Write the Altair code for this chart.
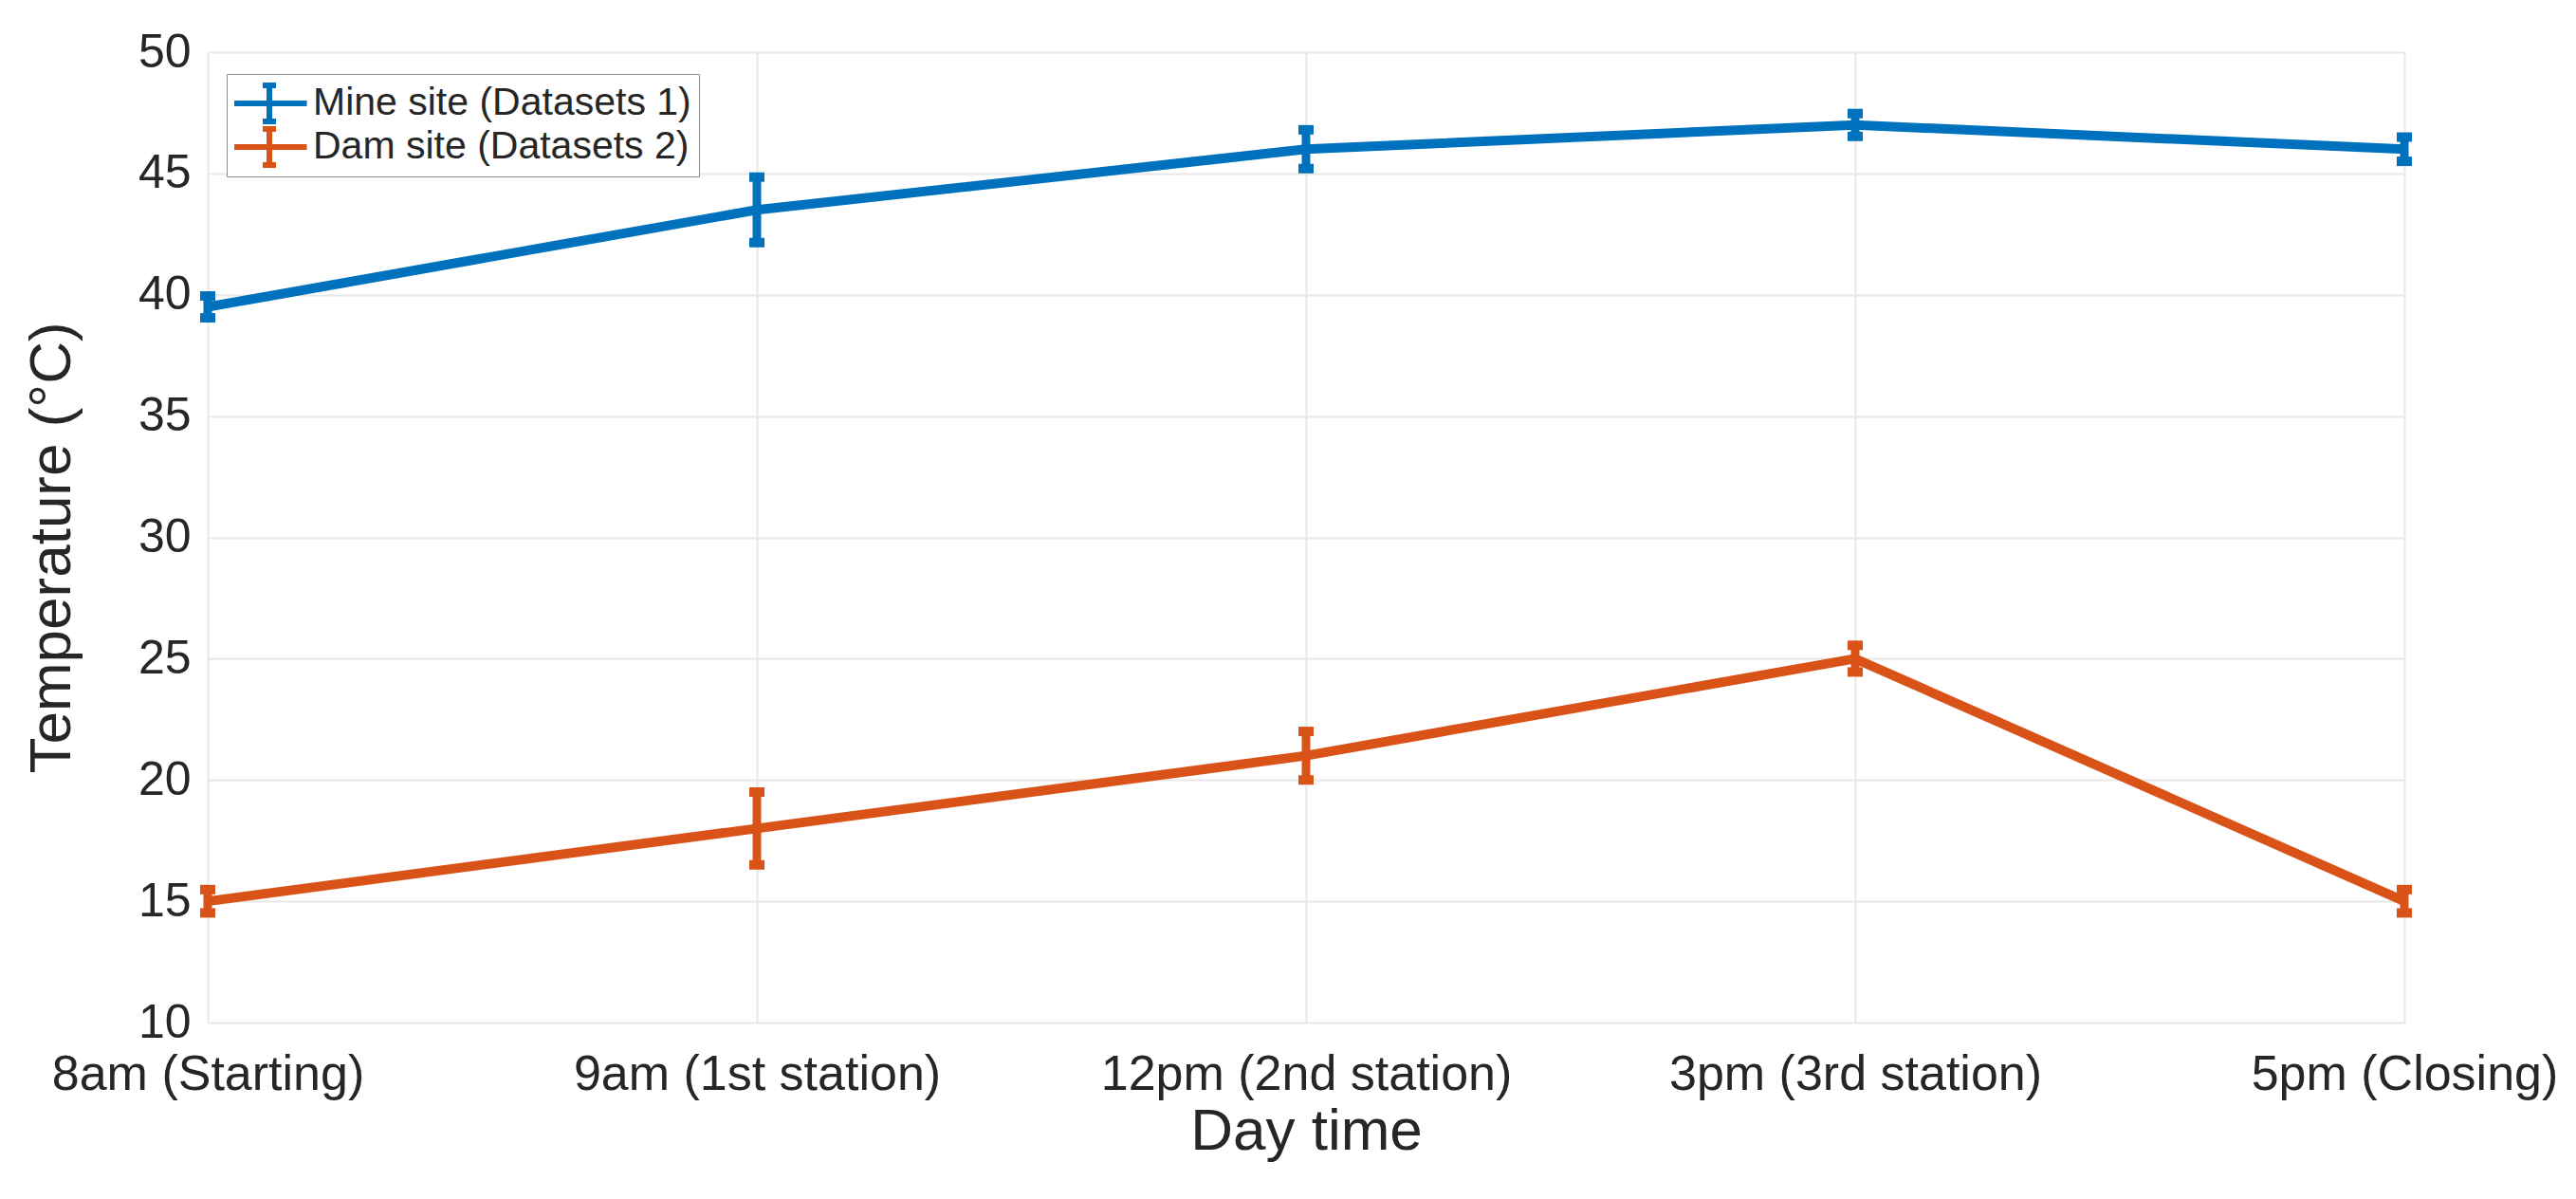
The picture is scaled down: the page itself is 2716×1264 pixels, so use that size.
import altair as alt
import pandas as pd

times = ["8am (Starting)", "9am (1st station)", "12pm (2nd station)", "3pm (3rd station)", "5pm (Closing)"]
series = ["Mine site (Datasets 1)", "Dam site (Datasets 2)"]
mine_mean = [39.5, 43.5, 46.0, 47.0, 46.0]
mine_err = [0.45, 1.35, 0.8, 0.47, 0.5]
dam_mean = [15.0, 18.0, 21.0, 25.0, 15.0]
dam_err = [0.48, 1.5, 1.0, 0.55, 0.48]
colors = ["#0072BD", "#D95319"]
y_ticks = [10, 15, 20, 25, 30, 35, 40, 45, 50]

rows = []
for name, means, errs in [(series[0], mine_mean, mine_err), (series[1], dam_mean, dam_err)]:
    for t, m, e in zip(times, means, errs):
        rows.append({"time": t, "series": name, "mean": m, "lo": m - e, "hi": m + e})
df = pd.DataFrame(rows)

FONT = "Liberation Sans"
TXT = "#262626"
FRAME = "#8c8c8c"
GRID = "#e8e8e8"

x_enc = alt.X(
    "time:N", sort=times,
    scale=alt.Scale(type="point", padding=0),
    axis=alt.Axis(
        title="Day time", labelAngle=0, labelFontSize=52, labelFont=FONT, labelColor=TXT,
        labelBaseline="alphabetic", labelPadding=70, labelOverlap=False, labelBound=False,
        labelFlush=False, labelLimit=1000, tickSize=0, domain=False,
        grid=True, gridColor=GRID, gridWidth=2,
        titleFontSize=62, titleFont=FONT, titleFontWeight="normal", titleColor=TXT,
        titleBaseline="alphabetic", titleAlign="center", titleX=1158, titleY=133,
    ),
)
y_axis = alt.Axis(
    title="Temperature (°C)", values=y_ticks, labelFontSize=50, labelFont=FONT, labelColor=TXT,
    labelPadding=18, tickSize=0, domain=False, grid=True, gridColor=GRID, gridWidth=2,
    titleFontSize=62, titleFont=FONT, titleFontWeight="normal", titleColor=TXT,
    titleAngle=270, titleBaseline="alphabetic", titleAlign="center", titleX=-146, titleY=522,
)
y_scale = alt.Scale(domain=[10, 50], nice=False, zero=False)
color_scale = alt.Scale(domain=series, range=colors)

legend_path = ("M-1.975,0L1.975,0M0,-0.95L0,0.95"
               "M-0.35,-0.95L0.35,-0.95M-0.35,0.95L0.35,0.95")

base = alt.Chart(df)

line = base.mark_line(strokeWidth=10).encode(
    x=x_enc,
    y=alt.Y("mean:Q", scale=y_scale, axis=y_axis),
    color=alt.Color(
        "series:N", scale=color_scale,
        legend=alt.Legend(
            title=None, orient="none", legendX=20, legendY=23,
            symbolType=legend_path, symbolSize=1600, symbolStrokeWidth=6, symbolOpacity=1,
            symbolOffset=14, clipHeight=46,
            labelFontSize=41, labelFont=FONT, labelColor=TXT, labelOffset=23, labelLimit=1000,
            strokeColor=FRAME, fillColor="white", padding=8, rowPadding=0,
        ),
    ),
)
bars = base.mark_rule(strokeWidth=9, opacity=1).encode(
    x=x_enc, y=alt.Y("lo:Q", scale=y_scale), y2="hi:Q",
    color=alt.Color("series:N", scale=color_scale),
)
cap_hi = base.mark_tick(orient="horizontal", size=16, thickness=10, opacity=1).encode(
    x=x_enc, y=alt.Y("hi:Q", scale=y_scale), color=alt.Color("series:N", scale=color_scale),
)
cap_lo = base.mark_tick(orient="horizontal", size=16, thickness=10, opacity=1).encode(
    x=x_enc, y=alt.Y("lo:Q", scale=y_scale), color=alt.Color("series:N", scale=color_scale),
)

chart = alt.layer(line, bars, cap_hi, cap_lo).properties(
    width=2316, height=1023,
    padding={"left": 211, "top": 47, "right": 173, "bottom": 170},
    autosize=alt.AutoSizeParams(type="none"),
).configure_view(stroke=FRAME, strokeWidth=2.5).configure(background="white")

chart.save("out.html", embed_options={"renderer": "svg", "actions": False})
